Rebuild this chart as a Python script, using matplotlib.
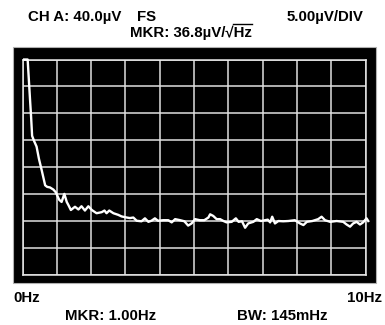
import numpy as np
import matplotlib
matplotlib.use('Agg')
import matplotlib.pyplot as plt
from matplotlib.patches import Rectangle
from matplotlib.lines import Line2D

plt.rcParams['font.family'] = ['Liberation Sans', 'DejaVu Sans']
plt.rcParams['font.weight'] = 'bold'

# spectrum trace (Hz, uV)
freq = [0.05, 0.15, 0.22, 0.25, 0.28, 0.34, 0.41, 0.48, 0.56, 0.66, 0.72, 0.80, 0.90, 0.97,
        1.07, 1.14, 1.22, 1.29, 1.34, 1.41, 1.53, 1.63, 1.72, 1.82, 1.92, 2.02, 2.16,
        2.31, 2.39, 2.45, 2.53, 2.65, 2.79, 2.89, 3.04, 3.13, 3.23, 3.33, 3.47, 3.57,
        3.67, 3.76, 3.86, 3.95, 4.10, 4.25, 4.35, 4.45, 4.60, 4.72, 4.83, 4.93, 5.03,
        5.17, 5.30, 5.42, 5.47, 5.56, 5.66, 5.76, 5.86, 5.95, 6.10, 6.22, 6.30, 6.40,
        6.49, 6.58, 6.73, 6.83, 6.95, 7.07, 7.15, 7.22, 7.28, 7.36, 7.46, 7.60, 7.75,
        7.94, 8.09, 8.19, 8.29, 8.45, 8.62, 8.72, 8.82, 8.97, 9.16, 9.35, 9.45, 9.55,
        9.64, 9.74, 9.84, 9.93, 10.03, 10.08]
level = [40.0, 40.0, 32.5, 29.4, 25.8, 24.8, 23.8, 21.5, 19.4, 16.6, 16.3, 16.2, 15.8, 15.3,
         13.9, 13.5, 15.0, 13.5, 12.9, 12.0, 12.6, 12.1, 12.7, 11.9, 12.7, 12.0, 11.4,
         11.6, 11.9, 11.4, 11.9, 11.4, 11.1, 10.8, 10.6, 10.5, 10.6, 10.0, 9.9, 10.45,
         9.8, 10.0, 10.45, 10.0, 10.1, 10.1, 9.7, 10.3, 10.1, 9.9, 9.1, 9.5, 10.3,
         10.1, 10.1, 10.6, 11.2, 10.9, 10.3, 10.3, 9.95, 9.7, 9.8, 10.45, 9.8, 9.9,
         8.7, 9.5, 9.8, 10.3, 9.95, 10.1, 10.2, 9.7, 10.75, 9.5, 9.95, 9.9, 9.95,
         10.1, 9.5, 9.2, 9.8, 9.95, 10.3, 10.75, 10.1, 9.8, 9.95, 9.8, 9.3, 8.9,
         9.5, 9.8, 9.3, 9.7, 10.45, 9.95]

x_ticks = np.arange(0, 11, 1)
y_ticks = np.arange(0, 45, 5)

W, H = 385, 325
fig = plt.figure(figsize=(W / 100, H / 100), dpi=100)
fig.patch.set_facecolor('white')

# outer black bezel
fig.patches.append(Rectangle((13 / W, 1 - 283 / H), 363 / W, 236.5 / H,
                             transform=fig.transFigure, facecolor='black',
                             edgecolor='#b0b0b0', linewidth=0.8, zorder=0))

ax = fig.add_axes([22.5 / W, 1 - 274.5 / H, 343 / W, 215 / H], zorder=2)
ax.set_facecolor('black')
ax.set_xlim(0, 10)
ax.set_ylim(0, 40)
ax.set_xticks(x_ticks)
ax.set_yticks(y_ticks)
ax.tick_params(length=0, labelbottom=False, labelleft=False)
ax.grid(True, color='#e0e0e0', linewidth=1.1)
for s in ax.spines.values():
    s.set_color('#e8e8e8')
    s.set_linewidth(1.1)

ax.plot(freq, level, color='white', linewidth=1.7, clip_on=False, zorder=5)

fs = 10.8
kw = dict(fontsize=fs, fontweight='bold', va='baseline')
fig.text(28 / W, 1 - 21 / H, 'CH A: 40.0µV', **kw)
fig.text(137 / W, 1 - 21 / H, 'FS', **kw)
fig.text(363 / W, 1 - 21 / H, '5.00µV/DIV', ha='right', **kw)
mk = fig.text(130 / W, 1 - 37 / H, 'MKR: 36.8µV/√Hz', **kw)

fig.text(13 / W, 1 - 302.5 / H, '0Hz', **kw)
fig.text(382 / W, 1 - 302.5 / H, '10Hz', ha='right', **kw)
fig.text(65 / W, 1 - 320 / H, 'MKR: 1.00Hz', **kw)
fig.text(237 / W, 1 - 320 / H, 'BW: 145mHz', **kw)

# overline of the square-root sign
fig.canvas.draw()
r = fig.canvas.get_renderer()
tmp = fig.text(130 / W, 1 - 37 / H, 'MKR: 36.8µV/√', **kw)
x0 = tmp.get_window_extent(r).x1
tmp.remove()
x1 = mk.get_window_extent(r).x1
ytop = (325 - 24) / H
fig.lines.append(Line2D([(x0 - 1) / W, x1 / W], [ytop, ytop], transform=fig.transFigure,
                        color='black', linewidth=1.0))

fig.savefig('out.png', dpi=100)
